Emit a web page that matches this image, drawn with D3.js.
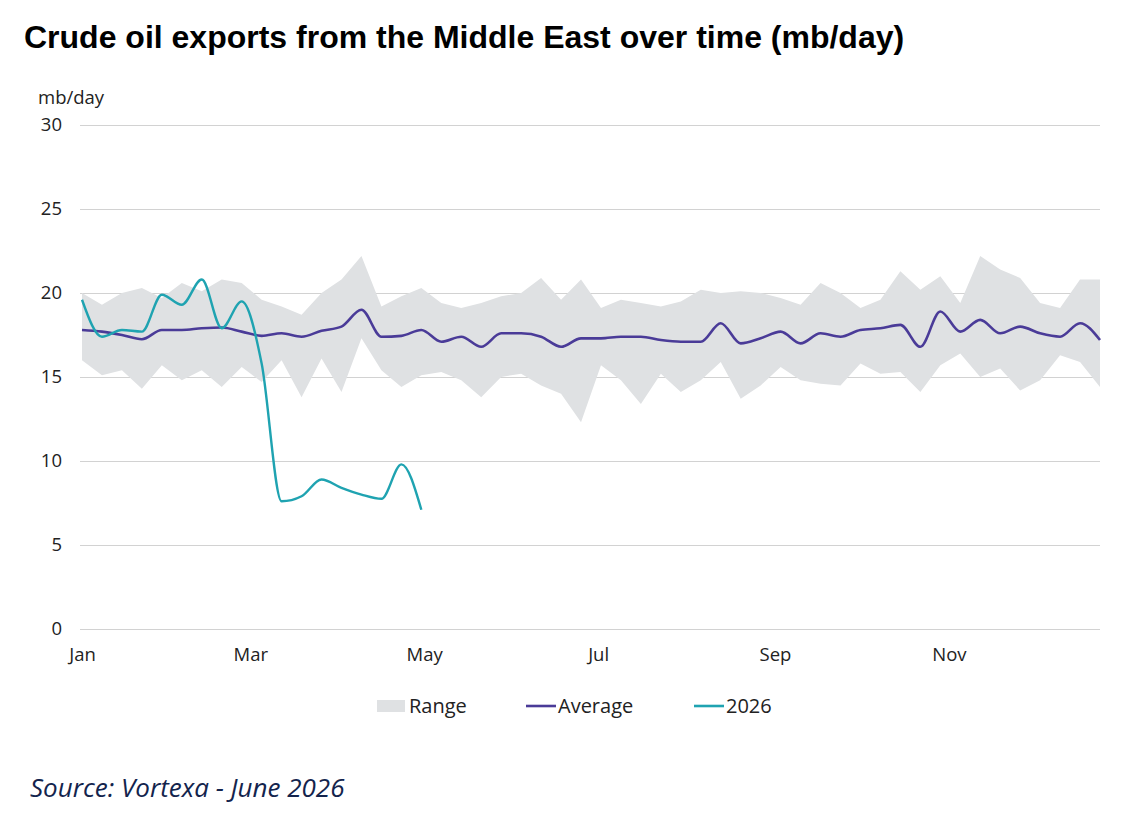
<!DOCTYPE html>
<html>
<head>
<meta charset="utf-8">
<script src="https://cdn.jsdelivr.net/npm/d3@7"></script>
<style>
  body { margin: 0; background: #fff; }
  svg { display: block; }
</style>
</head>
<body>
<div id="chart"></div>
<script>
// Weekly values, mb/day (week 0 = 1 Jan)
const rangeHigh = [
  20.0, 19.3, 20.0, 20.3, 19.7, 20.6, 20.1, 20.8, 20.6, 19.6,
  19.2, 18.7, 20.0, 20.8, 22.2, 19.2, 19.8, 20.3, 19.4, 19.1,
  19.4, 19.8, 20.0, 20.9, 19.6, 20.8, 19.1, 19.6, 19.4, 19.2,
  19.5, 20.2, 20.0, 20.1, 20.0, 19.7, 19.3, 20.6, 20.0, 19.1,
  19.6, 21.3, 20.2, 21.0, 19.4, 22.2, 21.4, 20.9, 19.4, 19.1,
  20.8, 20.8
];
const rangeLow = [
  16.0, 15.1, 15.4, 14.3, 15.7, 14.8, 15.4, 14.4, 15.6, 14.7,
  16.0, 13.8, 16.1, 14.1, 17.3, 15.4, 14.4, 15.1, 15.3, 14.8,
  13.8, 15.0, 15.2, 14.5, 14.0, 12.3, 15.7, 14.8, 13.4, 15.2,
  14.1, 14.8, 15.9, 13.7, 14.5, 15.6, 14.8, 14.6, 14.5, 15.8,
  15.2, 15.3, 14.1, 15.7, 16.4, 15.0, 15.5, 14.2, 14.8, 16.3,
  15.9, 14.4
];
const average = [
  17.8, 17.7, 17.5, 17.25, 17.8, 17.8, 17.9, 17.95, 17.7, 17.45,
  17.6, 17.4, 17.75, 18.0, 19.0, 17.4, 17.45, 17.8, 17.1, 17.4,
  16.8, 17.6, 17.6, 17.4, 16.8, 17.3, 17.3, 17.4, 17.4, 17.2,
  17.1, 17.1, 18.2, 17.0, 17.3, 17.7, 17.0, 17.6, 17.4, 17.8,
  17.9, 18.1, 16.8, 18.9, 17.7, 18.4, 17.6, 18.0, 17.6, 17.4,
  18.2, 17.2
];
const year2026 = [
  19.6, 17.4, 17.8, 17.7, 19.9, 19.3, 20.8, 17.9, 19.5, 15.8,
  7.6, 7.9, 8.9, 8.4, 8.0, 7.75, 9.8, 7.1
];
const yTicks = [0, 5, 10, 15, 20, 25, 30];
const legendItems = ["Range", "Average", "2026"];

const width = 1136;
const height = 816;

const colors = {
  range: "#dfe1e3",
  average: "#4a3b98",
  current: "#1fa3b1",
  grid: "#d2d2d2",
  text: "#222"
};

const startDate = new Date(2026, 0, 1);
const weekDate = (i) => d3.timeDay.offset(startDate, i * 7);

const x = d3.scaleTime()
  .domain([startDate, weekDate(rangeHigh.length - 1)])
  .range([82, 1100]);

const y = d3.scaleLinear()
  .domain([0, 30])
  .range([629, 125]);

const svg = d3.select("#chart")
  .append("svg")
  .attr("width", width)
  .attr("height", height)
  .style("background", "#fff");

// Title
svg.append("text")
  .attr("x", 24)
  .attr("y", 48)
  .style("font-family", "'Liberation Sans', Arial, sans-serif")
  .style("font-weight", "bold")
  .style("font-size", "32px")
  .attr("fill", "#000")
  .text("Crude oil exports from the Middle East over time (mb/day)");

// Unit label
svg.append("text")
  .attr("x", 38)
  .attr("y", 104)
  .style("font-family", "'Open Sans', sans-serif")
  .style("font-size", "18.5px")
  .attr("fill", colors.text)
  .text("mb/day");

// Grid lines + y labels
const yAxis = d3.axisLeft(y)
  .tickValues(yTicks)
  .tickSize(-(1100 - 80))
  .tickPadding(18);

svg.append("g")
  .attr("transform", "translate(80,0)")
  .call(yAxis)
  .call((g) => g.select(".domain").remove())
  .call((g) => g.selectAll(".tick line").attr("stroke", colors.grid))
  .call((g) => g.selectAll(".tick text")
    .attr("fill", colors.text)
    .style("font-family", "'Open Sans', sans-serif")
    .style("font-size", "18.5px"));

// x labels
const xAxis = d3.axisBottom(x)
  .ticks(d3.timeMonth.every(2))
  .tickFormat(d3.timeFormat("%b"))
  .tickSize(0)
  .tickPadding(19);

svg.append("g")
  .attr("transform", "translate(0,629)")
  .call(xAxis)
  .call((g) => g.select(".domain").remove())
  .call((g) => g.selectAll(".tick text")
    .attr("fill", colors.text)
    .style("font-family", "'Open Sans', sans-serif")
    .style("font-size", "18.5px"));

// Range band
const area = d3.area()
  .x((d, i) => x(weekDate(i)))
  .y0((d, i) => y(rangeLow[i]))
  .y1((d) => y(d));

svg.append("path")
  .datum(rangeHigh)
  .attr("d", area)
  .attr("fill", colors.range);

// Lines
const line = d3.line()
  .x((d, i) => x(weekDate(i)))
  .y((d) => y(d))
  .curve(d3.curveMonotoneX);

svg.append("path")
  .datum(average)
  .attr("d", line)
  .attr("fill", "none")
  .attr("stroke", colors.average)
  .attr("stroke-width", 2.6);

svg.append("path")
  .datum(year2026)
  .attr("d", line)
  .attr("fill", "none")
  .attr("stroke", colors.current)
  .attr("stroke-width", 2.4);

// Legend
const legendX = [377, 526, 694];
const legend = svg.append("g")
  .attr("transform", "translate(0,706)");

legendItems.forEach((name, i) => {
  const g = legend.append("g").attr("transform", `translate(${legendX[i]},0)`);
  if (i === 0) {
    g.append("rect")
      .attr("x", 0).attr("y", -6)
      .attr("width", 28).attr("height", 12)
      .attr("fill", colors.range);
  } else {
    g.append("line")
      .attr("x1", 0).attr("x2", 30)
      .attr("y1", 0).attr("y2", 0)
      .attr("stroke", i === 1 ? colors.average : colors.current)
      .attr("stroke-width", 2.6);
  }
  g.append("text")
    .attr("x", 32)
    .attr("y", 0)
    .attr("dy", "0.35em")
    .style("font-family", "'Open Sans', sans-serif")
    .style("font-size", "20px")
    .attr("fill", colors.text)
    .text(name);
});

// Source
svg.append("text")
  .attr("x", 30)
  .attr("y", 797)
  .style("font-family", "'Open Sans', sans-serif")
  .style("font-style", "italic")
  .style("font-size", "26px")
  .attr("fill", "#13244d")
  .text("Source: Vortexa - June 2026");
</script>
</body>
</html>
